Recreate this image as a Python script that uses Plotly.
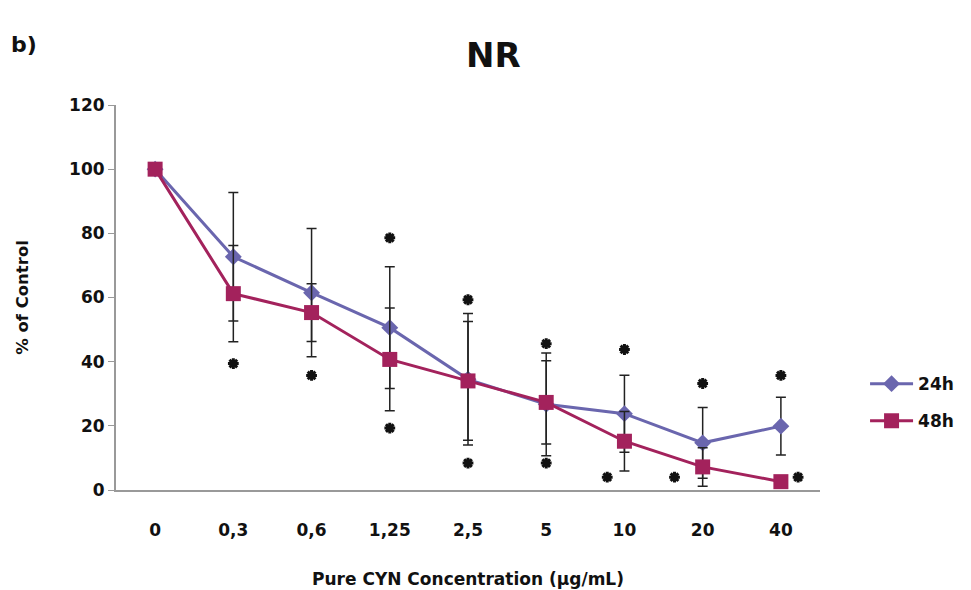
import plotly.graph_objects as go

categories = ["0", "0,3", "0,6", "1,25", "2,5", "5", "10", "20", "40"]
h24 = [100, 72.7, 61.5, 50.6, 34.5, 26.7, 23.8, 14.7, 19.9]
h24_err = [0, 20, 20, 19, 20.5, 16, 12, 11, 9]
h48 = [100, 61.2, 55.3, 40.7, 34.0, 27.3, 15.2, 7.2, 2.6]
h48_err = [0, 15, 9, 16, 18.5, 13, 9.3, 6, 1]

# significance asterisks: (category position, value)
star_x = [1, 2, 3, 3, 4, 4, 5, 5, 6, 5.78, 7, 6.64, 8, 8.22]
star_y = [39.4, 35.7, 78.6, 19.3, 59.3, 8.4, 45.6, 8.4, 43.8, 4, 33.2, 4, 35.7, 4]

xi = list(range(len(categories)))
FONT = "'DejaVu Sans', sans-serif"
c24 = "#6A66AE"
c48 = "#A3225C"

fig = go.Figure()
fig.add_trace(go.Scatter(
    x=xi, y=h24, name="<b>24h</b>", mode="lines+markers", legendgroup="a",
    line=dict(color=c24, width=3),
    marker=dict(symbol="diamond", size=13, color=c24),
    error_y=dict(type="data", array=h24_err, color="#222", thickness=1.5, width=5),
))
fig.add_trace(go.Scatter(
    x=xi, y=h48, name="<b>48h</b>", mode="lines+markers", legendgroup="b",
    line=dict(color=c48, width=3),
    marker=dict(symbol="square", size=15, color=c48),
    error_y=dict(type="data", array=h48_err, color="#222", thickness=1.5, width=5),
))
fig.add_trace(go.Scatter(
    x=star_x, y=star_y, mode="markers",
    marker=dict(symbol="asterisk-open", size=9, color="#111", line=dict(color="#111", width=3)),
    showlegend=False, hoverinfo="skip",
))

fig.update_layout(
    width=971, height=590,
    margin=dict(l=116, r=149, t=105, b=100),
    paper_bgcolor="white", plot_bgcolor="white",
    font=dict(family=FONT, size=17, color="#111"),
    showlegend=True,
    legend=dict(x=1.064, y=0.227, xanchor="left", yanchor="middle",
                font=dict(size=17, family=FONT), itemwidth=43,
                traceorder="grouped", tracegroupgap=12),
)
fig.add_annotation(text="<b>NR</b>", xref="paper", yref="paper", showarrow=False,
                   x=(495 - 116) / 706, y=(490 - 55) / 385, xanchor="center", yanchor="middle",
                   font=dict(size=34, family=FONT))
fig.add_annotation(text="<b>b)</b>", xref="paper", yref="paper", showarrow=False,
                   x=(9 - 116) / 706, y=(490 - 45) / 385, xanchor="left", yanchor="middle",
                   font=dict(size=22, family=FONT))

fig.update_xaxes(
    tickmode="array", tickvals=xi, ticktext=["<b>%s</b>" % c for c in categories],
    range=[-0.5, 8.5], showline=True, linecolor="#999", linewidth=2,
    ticks="", showgrid=False, zeroline=False, ticklabelstandoff=24,
    tickfont=dict(size=17), automargin=False,
    title=dict(text="<b>Pure CYN Concentration (µg/mL)</b>", font=dict(size=17), standoff=34),
)
fig.update_yaxes(
    range=[0, 120], dtick=20, showline=True, linecolor="#999", linewidth=2,
    ticks="outside", ticklen=6, tickcolor="#999", showgrid=False, zeroline=False,
    tickprefix="<b>", ticksuffix="</b>", tickfont=dict(size=17), automargin=False,
    title=dict(text="<b>% of Control</b>", font=dict(size=16.5), standoff=36),
)

fig.write_html("out.html")
